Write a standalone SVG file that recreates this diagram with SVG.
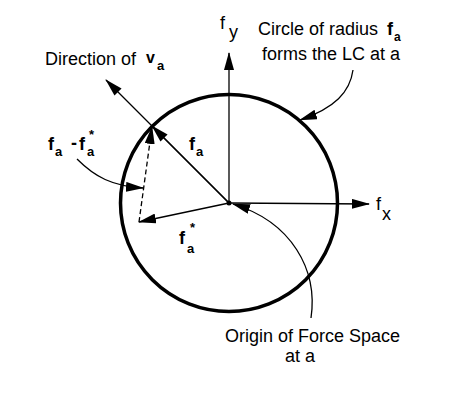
<svg xmlns="http://www.w3.org/2000/svg" width="462" height="417" viewBox="0 0 462 417">
<style>
text{font-family:"Liberation Sans",Arial,sans-serif;fill:#000}
.t{font-size:18px}
.b{font-weight:bold}
.sub{font-size:13px;font-weight:bold}
.thin{fill:none;stroke:#000;stroke-width:1.3}
.dash{fill:none;stroke:#000;stroke-width:1.3;stroke-dasharray:5,3}
</style>
<defs>
<marker id="ah" markerUnits="userSpaceOnUse" markerWidth="18" markerHeight="10" refX="17" refY="5" orient="auto" viewBox="0 0 18 10">
<path d="M0,0 L18,5 L0,10 z" fill="#000"/>
</marker>
</defs>
<rect width="462" height="417" fill="#fff"/>
<g id="lc-circle">
<circle cx="229" cy="203" r="108.5" fill="none" stroke="#000" stroke-width="3.5"/>
</g>
<g id="connectors">
<line class="thin" x1="229" y1="203" x2="229" y2="53" marker-end="url(#ah)"/>
<line class="thin" x1="229" y1="203" x2="369" y2="204" marker-end="url(#ah)"/>
<line class="thin" x1="229" y1="203" x2="106" y2="80" marker-end="url(#ah)"/>
<line class="thin" x1="229" y1="203" x2="152" y2="126" marker-end="url(#ah)"/>
<line class="thin" x1="229" y1="203" x2="139" y2="222" marker-end="url(#ah)"/>
<line class="dash" x1="139" y1="222" x2="152" y2="127" marker-end="url(#ah)"/>
<path class="thin" d="M77,159 C95,177 112,186 143,188" marker-end="url(#ah)"/>
<path class="thin" d="M353,70 C350,92 335,108 300,120" marker-end="url(#ah)"/>
<path class="thin" d="M311,318 C318,270 292,222 233,204" marker-end="url(#ah)"/>
</g>
<g id="origin">
<circle cx="229" cy="203" r="2.5" fill="#000"/>
</g>
<g id="label-fy">
<text class="t" x="220" y="29">f</text>
<text class="t" x="229" y="38">y</text>
</g>
<g id="label-fx">
<text class="t" x="376" y="210">f</text>
<text class="t" x="382" y="220">x</text>
</g>
<g id="label-direction">
<text class="t" x="45" y="65">Direction of</text>
<text class="b" style="font-size:16px" x="146" y="63">v</text>
<text class="sub" x="157" y="70">a</text>
</g>
<g id="label-circle">
<text class="t" x="258" y="35">Circle of radius</text>
<text class="t b" x="387" y="35">f</text>
<text class="sub" style="font-size:12px" x="394" y="41">a</text>
<text class="t" x="262" y="60">forms the LC at a</text>
</g>
<g id="label-origin">
<text class="t" x="225" y="342">Origin of Force Space</text>
<text class="t" x="285" y="362">at a</text>
</g>
<g id="label-fa">
<text class="t b" x="189" y="150">f</text>
<text class="sub" x="196" y="156">a</text>
</g>
<g id="label-fa-star">
<text class="t b" x="179" y="244">f</text>
<text class="sub" x="190" y="232">*</text>
<text class="sub" x="187" y="253">a</text>
</g>
<g id="label-diff">
<text class="t b" x="48" y="150">f</text>
<text class="sub" x="55" y="156">a</text>
<text class="t b" x="71" y="149">-</text>
<text class="t b" x="79" y="150">f</text>
<text class="sub" x="89" y="139">*</text>
<text class="sub" x="87" y="156">a</text>
</g>
</svg>
